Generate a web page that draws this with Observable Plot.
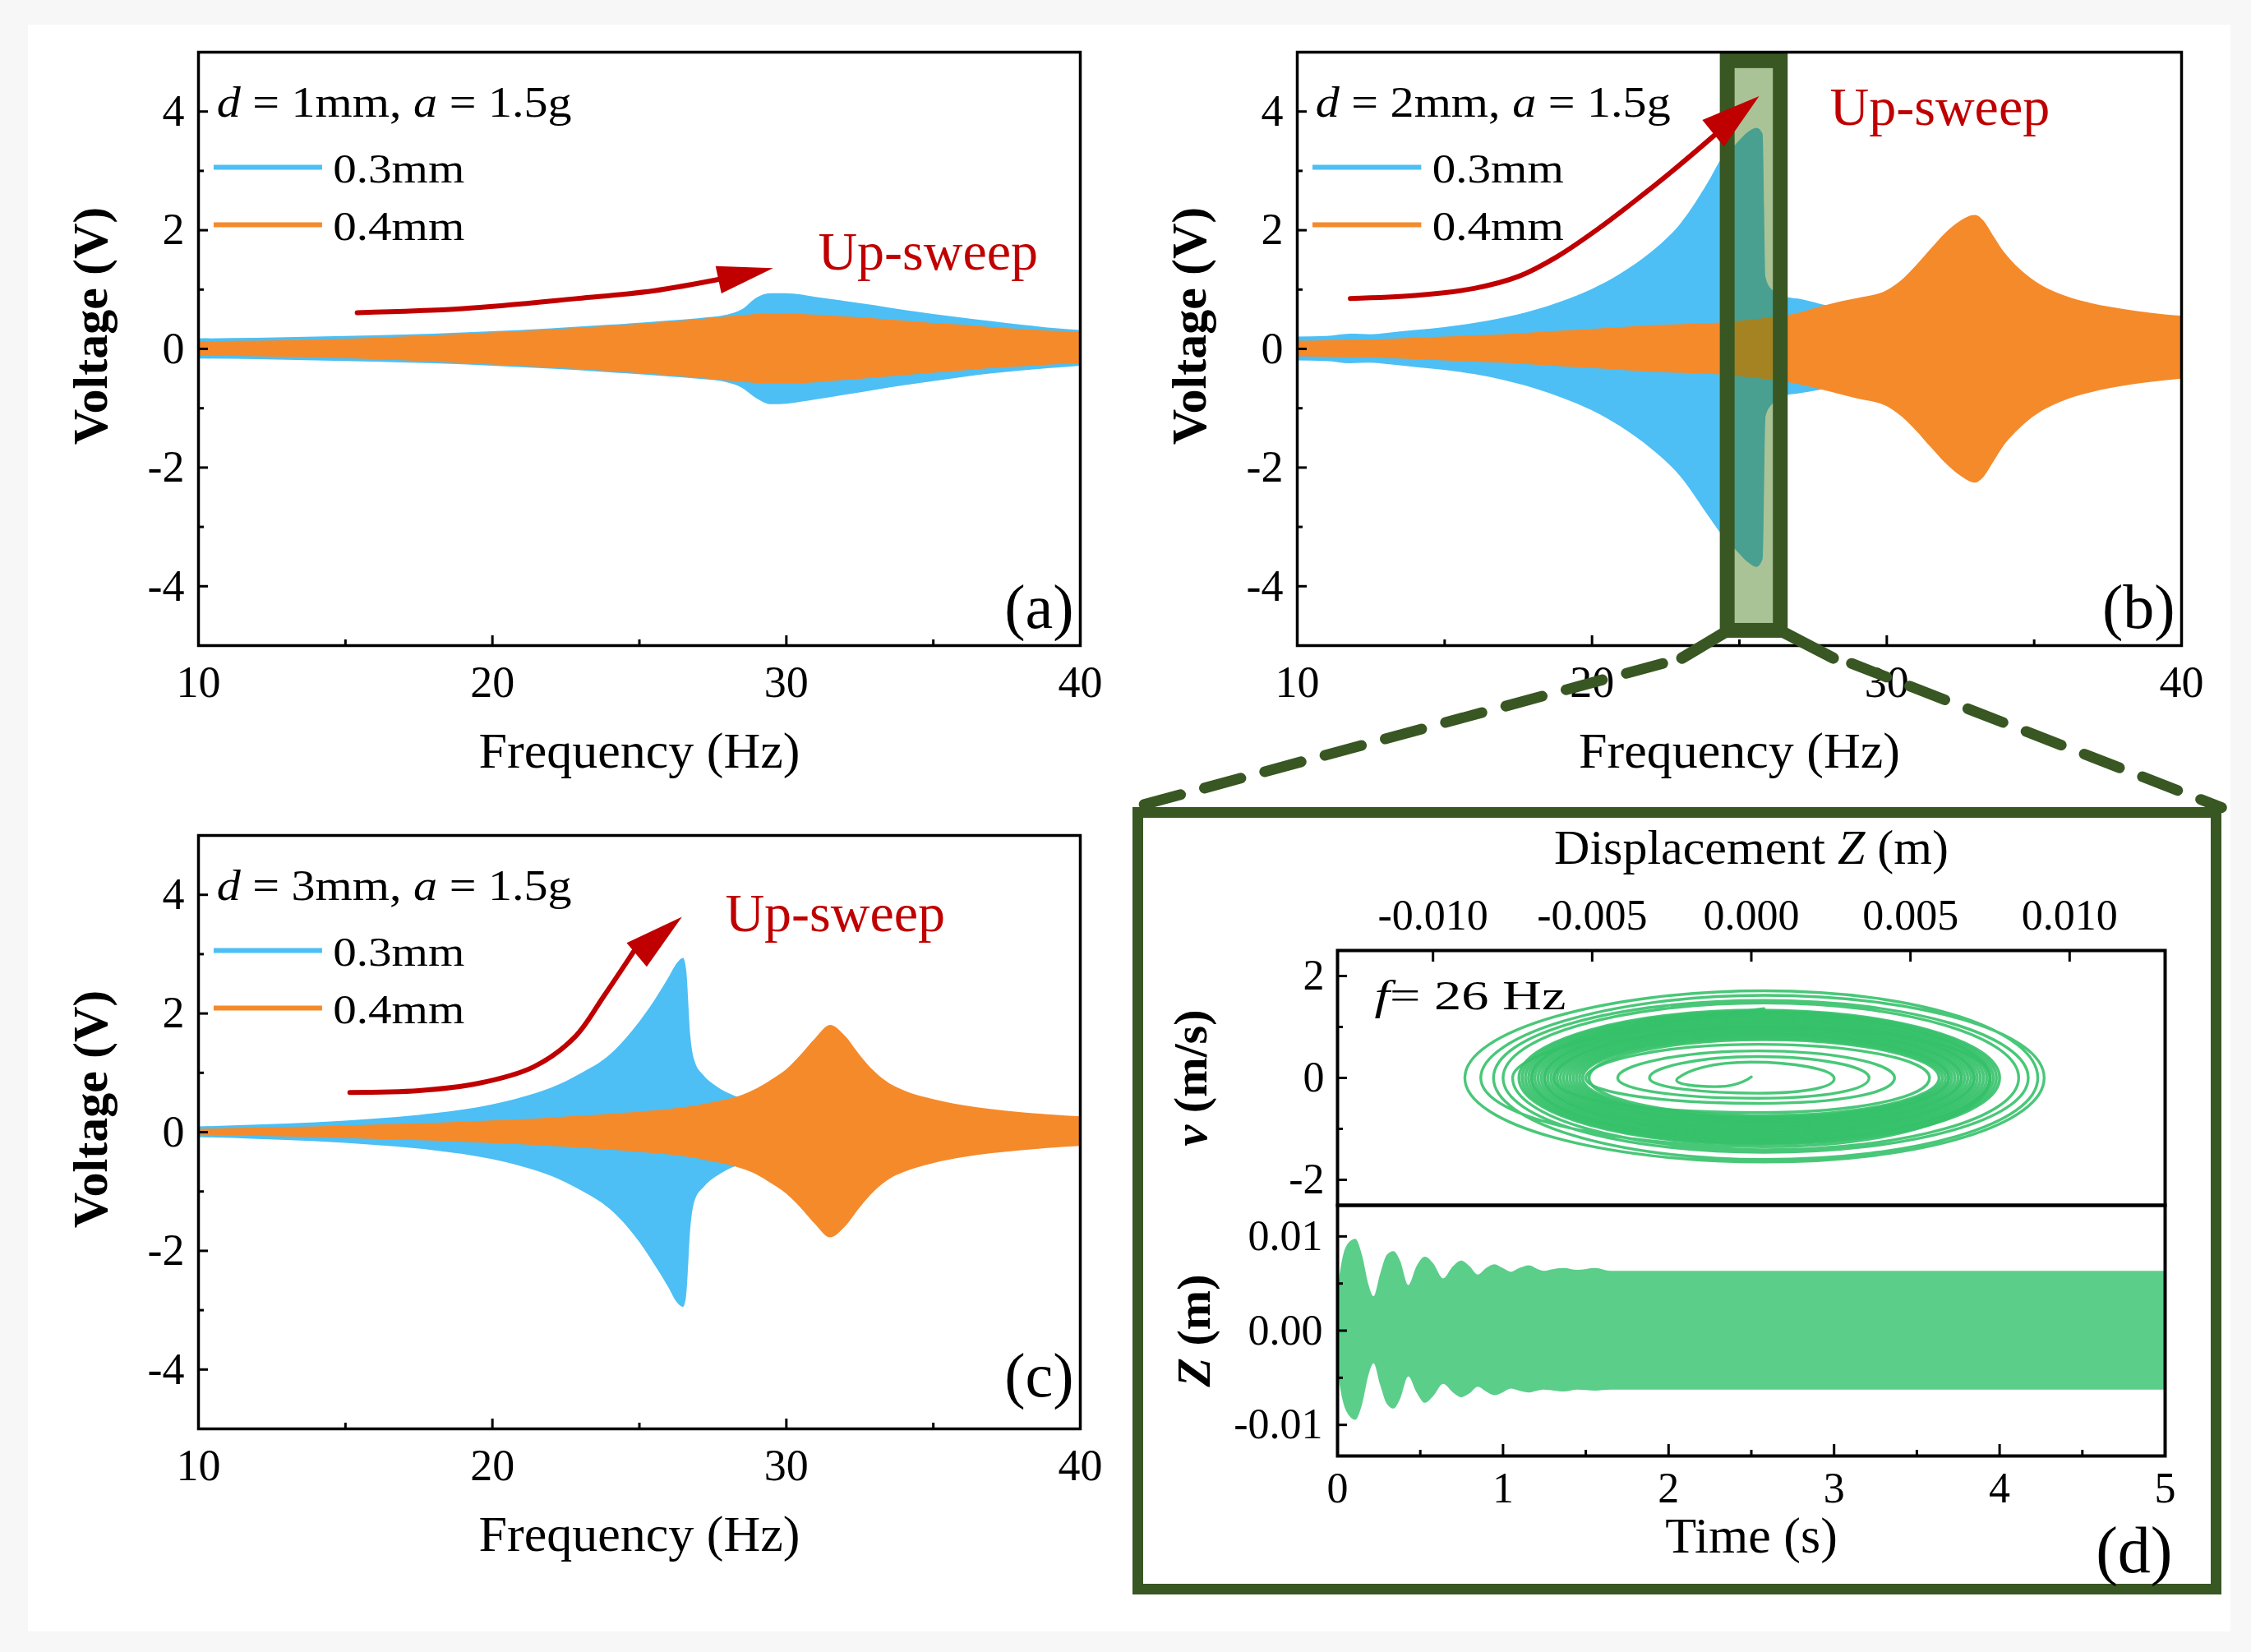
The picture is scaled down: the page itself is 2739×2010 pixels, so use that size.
<!DOCTYPE html>
<html>
<head>
<meta charset="utf-8">
<script src="https://cdn.jsdelivr.net/npm/d3@7"></script>
<script src="https://cdn.jsdelivr.net/npm/@observablehq/plot@0.6"></script>
<style>
html,body{margin:0;padding:0;background:#f7f7f7;}
#fig{position:relative;width:2739px;height:2010px;overflow:hidden;background:#f7f7f7;}
#paper{position:absolute;left:34px;top:30px;width:2680px;height:1955px;background:#ffffff;}
#dbox{position:absolute;left:1378px;top:982px;width:1325px;height:958px;border:13px solid #385723;box-sizing:border-box;background:#fff;}
.pan{position:absolute;}
</style>
</head>
<body>
<div id="fig"><div id="paper"></div><div id="dbox"></div></div>
<script>
// ---------------- data ----------------
// Panel (a): d = 1 mm
const freqA = [10,12,14,16,18,20,22,24,26,27,28,28.5,29,29.5,30,31,32,33,34,35,36,37,38,39,40];
const blueTopA = [0.17,0.18,0.20,0.22,0.25,0.29,0.34,0.40,0.47,0.51,0.57,0.66,0.86,0.93,0.93,0.87,0.80,0.73,0.65,0.58,0.52,0.46,0.40,0.35,0.31];
const blueBotA = [-0.17,-0.18,-0.20,-0.22,-0.25,-0.29,-0.34,-0.40,-0.47,-0.51,-0.57,-0.66,-0.84,-0.94,-0.93,-0.86,-0.78,-0.70,-0.62,-0.55,-0.48,-0.42,-0.37,-0.33,-0.29];
const orangeTopA = [0.12,0.13,0.15,0.18,0.22,0.27,0.32,0.38,0.45,0.49,0.54,0.56,0.58,0.59,0.59,0.57,0.54,0.51,0.47,0.43,0.40,0.36,0.33,0.30,0.28];
const orangeBotA = [-0.12,-0.13,-0.15,-0.18,-0.22,-0.27,-0.32,-0.38,-0.45,-0.49,-0.54,-0.56,-0.58,-0.59,-0.59,-0.57,-0.53,-0.49,-0.45,-0.41,-0.37,-0.33,-0.30,-0.27,-0.25];

// Panel (b): d = 2 mm
const freqB = [10,11,11.8,12.5,13,14,15,16,17,18,19,20,21,22,23,24,24.4,24.9,25.3,25.6,25.8,25.9,26.1,26.6,27,27.7,28.5,29,30,30.5,31,31.5,32,32.5,33,33.3,33.6,34,34.5,35,36,37,38,39,40];
const blueTopB = [0.20,0.21,0.25,0.24,0.26,0.31,0.36,0.43,0.52,0.64,0.80,1.00,1.27,1.62,2.10,2.85,3.20,3.45,3.65,3.72,3.62,1.20,1.00,0.87,0.84,0.76,0.66,0.62,0.56,0.53,0.50,0.48,0.46,0.44,0.42,0.41,0.40,0.39,0.37,0.36,0.34,0.32,0.30,0.28,0.26];
const blueBotB = [-0.20,-0.21,-0.25,-0.24,-0.26,-0.31,-0.36,-0.43,-0.53,-0.66,-0.83,-1.04,-1.32,-1.68,-2.15,-2.85,-3.13,-3.40,-3.60,-3.68,-3.55,-1.15,-0.95,-0.79,-0.76,-0.70,-0.62,-0.58,-0.54,-0.52,-0.50,-0.48,-0.46,-0.44,-0.42,-0.41,-0.40,-0.39,-0.37,-0.36,-0.34,-0.32,-0.30,-0.28,-0.26];
const orangeTopB = [0.13,0.14,0.15,0.15,0.16,0.18,0.20,0.22,0.24,0.27,0.30,0.33,0.36,0.39,0.41,0.43,0.44,0.46,0.48,0.50,0.51,0.52,0.53,0.56,0.60,0.70,0.80,0.85,0.98,1.15,1.40,1.68,1.95,2.15,2.25,2.15,1.92,1.62,1.35,1.15,0.90,0.76,0.67,0.60,0.55];
const orangeBotB = [-0.13,-0.14,-0.15,-0.15,-0.16,-0.18,-0.20,-0.22,-0.24,-0.27,-0.30,-0.33,-0.36,-0.39,-0.41,-0.43,-0.44,-0.46,-0.48,-0.50,-0.51,-0.52,-0.53,-0.56,-0.60,-0.68,-0.78,-0.84,-0.97,-1.14,-1.38,-1.66,-1.93,-2.14,-2.26,-2.16,-1.93,-1.62,-1.35,-1.14,-0.88,-0.73,-0.63,-0.56,-0.51];

// Panel (c): d = 3 mm
const freqC = [10,12,14,16,18,20,21,22,23,24,25,25.5,26,26.3,26.5,26.6,26.75,26.9,27.2,27.6,28,28.5,29,29.5,30,30.5,31,31.5,32,32.5,33,33.5,34,35,36,37,38,39,40];
const blueTopC = [0.09,0.12,0.16,0.22,0.31,0.46,0.58,0.74,0.98,1.30,1.85,2.20,2.60,2.85,2.93,2.75,1.60,1.18,0.95,0.78,0.66,0.56,0.48,0.43,0.40,0.37,0.34,0.32,0.30,0.28,0.26,0.25,0.24,0.22,0.20,0.19,0.18,0.17,0.16];
const blueBotC = [-0.09,-0.12,-0.16,-0.22,-0.31,-0.46,-0.58,-0.74,-0.98,-1.30,-1.85,-2.22,-2.62,-2.88,-2.95,-2.78,-1.60,-1.15,-0.93,-0.76,-0.64,-0.54,-0.47,-0.42,-0.39,-0.36,-0.33,-0.31,-0.29,-0.27,-0.25,-0.24,-0.23,-0.21,-0.20,-0.19,-0.18,-0.17,-0.16];
const orangeTopC = [0.05,0.07,0.09,0.12,0.15,0.19,0.21,0.24,0.27,0.30,0.34,0.36,0.38,0.40,0.41,0.42,0.43,0.44,0.47,0.51,0.55,0.62,0.73,0.88,1.05,1.30,1.58,1.80,1.62,1.30,1.02,0.82,0.70,0.55,0.45,0.38,0.33,0.29,0.26];
const orangeBotC = [-0.05,-0.07,-0.09,-0.12,-0.15,-0.19,-0.21,-0.24,-0.27,-0.30,-0.34,-0.36,-0.38,-0.40,-0.41,-0.42,-0.43,-0.44,-0.47,-0.51,-0.55,-0.62,-0.72,-0.87,-1.04,-1.28,-1.56,-1.78,-1.60,-1.28,-1.00,-0.80,-0.68,-0.53,-0.43,-0.36,-0.31,-0.27,-0.24];

// Up-sweep arrows (frequency, voltage) read along each red arrow
const arrowFA = [15.4,19.0,22.9,25.5,27.8];
const arrowVA = [0.61,0.68,0.85,0.98,1.18];
const arrowFB = [11.8,14.0,16.0,17.5,18.8,20.2,21.6,22.9,24.2];
const arrowVB = [0.85,0.90,1.02,1.22,1.55,2.02,2.55,3.07,3.62];
const arrowFC = [15.15,17.5,19.5,21.4,22.8,23.8,24.8];
const arrowVC = [0.67,0.70,0.82,1.10,1.60,2.30,3.04];

// Highlighted window in (b) (Hz) around f = 26 Hz
const zoomWindow = [24.6, 26.4];

// Panel (d): time response Z(t) envelope
const timeT = [0,0.03,0.07,0.11,0.15,0.19,0.22,0.26,0.30,0.34,0.38,0.43,0.48,0.53,0.58,0.64,0.70,0.75,0.80,0.85,0.90,0.95,1.00,1.05,1.10,1.16,1.21,1.25,1.31,1.37,1.45,1.56,1.65,2.5,3.5,5.0];
const timeTop = [0.0040,0.0075,0.0093,0.0097,0.0080,0.0048,0.0036,0.0060,0.0080,0.0084,0.0074,0.0048,0.0068,0.0078,0.0071,0.0055,0.0068,0.0074,0.0068,0.0059,0.0066,0.0070,0.0066,0.0062,0.0066,0.0069,0.0065,0.0063,0.0065,0.0066,0.0064,0.0066,0.0063,0.0063,0.0063,0.0063];
const timeBot = [-0.0040,-0.0072,-0.0090,-0.0095,-0.0079,-0.0047,-0.0035,-0.0058,-0.0078,-0.0083,-0.0073,-0.0049,-0.0066,-0.0077,-0.0070,-0.0057,-0.0066,-0.0071,-0.0067,-0.0060,-0.0065,-0.0069,-0.0066,-0.0062,-0.0064,-0.0066,-0.0064,-0.0063,-0.0064,-0.0065,-0.0063,-0.0064,-0.0063,-0.0063,-0.0063,-0.0063];

// Panel (d): phase portrait — transient spiral (extreme points of successive half loops)
const spiralZ = [0.0000,-0.0010,-0.0023,0.0000,0.0026,0.0002,-0.0032,0.0002,0.0037,0.0002,-0.0042,0.0002,0.0045,0.0002,-0.0052,0.0002,0.0056,0.0002,-0.0062,0.0003,0.0075,0.0004,-0.0085,0.0004,0.0092,0.0004,-0.0090,0.0004,0.0090,0.0004,-0.0081,0.0004,0.0087,0.0004,-0.0078,0.0004,0.0084,0.0004,-0.0075,0.0004];
const spiralV = [0.02,-0.17,0.00,0.31,0.00,-0.30,0.00,0.42,0.00,-0.40,0.00,0.53,0.00,-0.50,0.00,0.66,0.00,-0.68,0.00,1.00,0.00,-1.35,0.00,1.62,0.00,-1.65,0.00,1.71,0.00,-1.60,0.00,1.52,0.00,-1.46,0.00,1.47,0.00,-1.41,0.00,1.36];
// Phase portrait — steady-state loops (dense band)
const bandLeft  = [-0.0073,-0.0072,-0.0071,-0.0070,-0.0069,-0.0069,-0.0068,-0.0067,-0.0066,-0.0065,-0.0065,-0.0064,-0.0063,-0.0062,-0.0061,-0.0060,-0.0059,-0.0058,-0.0057,-0.0056,-0.0055,-0.0054,-0.0053,-0.0051];
const bandRight = [0.0078,0.0077,0.0076,0.0075,0.0075,0.0074,0.0073,0.0072,0.0071,0.0070,0.0070,0.0069,0.0068,0.0067,0.0066,0.0066,0.0065,0.0064,0.0063,0.0062,0.0062,0.0061,0.0060,0.0059];
const bandTop   = [1.33,1.31,1.28,1.26,1.24,1.21,1.19,1.16,1.14,1.11,1.09,1.06,1.04,1.01,0.99,0.96,0.94,0.91,0.89,0.86,0.84,0.81,0.78,0.75];
const bandBottom= [-1.30,-1.28,-1.25,-1.23,-1.21,-1.18,-1.16,-1.13,-1.11,-1.08,-1.06,-1.03,-1.01,-0.98,-0.96,-0.93,-0.91,-0.88,-0.86,-0.84,-0.81,-0.79,-0.77,-0.74];

// tick labels
const freqTicks = [10,20,30,40];
const voltTicks = [-4,-2,0,2,4];
const dispTicks = [-0.010,-0.005,0,0.005,0.010];
const velTicks = [-2,0,2];
const timeTicks = [0,1,2,3,4,5];
const zTicks = [-0.01,0,0.01];

// ---------------- styling ----------------
const SERIF = "'Liberation Serif','Times New Roman',Times,serif";
const BLUE = "#4dbff4", ORANGE = "#f58a2b", RED = "#c00000", DKGREEN = "#385723";
const LINEGREEN = "#35c169", FILLGREEN = "#52cb84";
const fmt = dec => d => (d < 0 ? "-" : "") + Math.abs(d).toFixed(dec);
const baseStyle = fs => ({fontFamily: SERIF, fontSize: fs + "px", background: "transparent", overflow: "visible", maxWidth: "none", color: "#000"});

// rich text: italic parts and fitted width, found by the text content
function restyle(svg, content, {parts, width}) {
  d3.select(svg).selectAll("text").filter(function() { return this.textContent === content; }).each(function() {
    const t = d3.select(this);
    if (parts) {
      t.text(null);
      for (const [s, it] of parts) t.append("tspan").attr("font-style", it ? "italic" : null).text(s);
    }
    if (width) t.attr("textLength", width).attr("lengthAdjust", "spacingAndGlyphs");
  });
}

function place(svg, left, top, w, h) {
  const div = document.createElement("div");
  div.className = "pan";
  div.style.left = left + "px"; div.style.top = top + "px";
  div.style.width = w + "px"; div.style.height = h + "px";
  div.appendChild(svg);
  document.getElementById("fig").appendChild(div);
  return svg;
}

function freqPanel(cfg) {
  const {width, height, mt, mb, ml, mr} = cfg;
  const H = height - mt - mb, Wf = width - ml - mr;
  const blue = cfg.freq.map((f, i) => ({f, lo: cfg.bBot[i], hi: cfg.bTop[i]}));
  const orange = cfg.freq.map((f, i) => ({f, lo: cfg.oBot[i], hi: cfg.oTop[i]}));
  const arrow = cfg.arrowF.map((f, i) => ({f, v: cfg.arrowV[i]}));
  const marks = [
    Plot.areaY(blue, {x: "f", y1: "lo", y2: "hi", fill: BLUE, curve: "monotone-x"}),
    Plot.areaY(orange, {x: "f", y1: "lo", y2: "hi", fill: ORANGE, curve: "monotone-x"}),
    ...(cfg.overlay || []),
    Plot.line(arrow, {x: "f", y: "v", stroke: RED, strokeWidth: 6, curve: "catmull-rom"}),
    Plot.vector([cfg.tip], {x: d => d[0], y: d => d[1], rotate: cfg.tip[2], length: cfg.tip[3], r: cfg.tip[4], shape: "spike", anchor: "end", fill: RED, stroke: "none"}),
    Plot.text(["Up-sweep"], {x: cfg.up[0], y: cfg.up[1], textAnchor: "start", lineAnchor: "bottom", fill: RED, fontSize: 66}),
    Plot.text([cfg.title], {x: 10.62, y: 3.91, textAnchor: "start", lineAnchor: "bottom", fontSize: 52}),
    Plot.ruleY([3.06], {x1: 10.53, x2: 14.22, stroke: BLUE, strokeWidth: 6}),
    Plot.ruleY([2.09], {x1: 10.53, x2: 14.22, stroke: ORANGE, strokeWidth: 6}),
    Plot.text(["0.3mm"], {x: 14.58, y: 2.80, textAnchor: "start", lineAnchor: "bottom", fontSize: 50}),
    Plot.text(["0.4mm"], {x: 14.58, y: 1.83, textAnchor: "start", lineAnchor: "bottom", fontSize: 50}),
    Plot.text([cfg.panel], {frameAnchor: "bottom-right", dx: -8, dy: cfg.panelDy, textAnchor: "end", lineAnchor: "bottom", fontSize: 76}),
    Plot.frame({stroke: "#000", strokeWidth: 3.5}),
    Plot.tickX([20, 30], {x: d => d, insetTop: H - 12, stroke: "#000", strokeWidth: 3}),
    Plot.tickX([15, 25, 35], {x: d => d, insetTop: H - 7, stroke: "#000", strokeWidth: 3}),
    Plot.tickY([-4, -2, 0, 2, 4], {y: d => d, insetRight: Wf - 12, stroke: "#000", strokeWidth: 3}),
    Plot.tickY([-3, -1, 1, 3], {y: d => d, insetRight: Wf - 7, stroke: "#000", strokeWidth: 3}),
    Plot.axisX({ticks: freqTicks, tickSize: 0, tickPadding: 24, tickFormat: fmt(0), label: null, fontSize: 54}),
    Plot.axisY({ticks: voltTicks, tickSize: 0, tickPadding: 17, tickFormat: fmt(0), label: null, fontSize: 54}),
    Plot.text(["Frequency (Hz)"], {frameAnchor: "bottom", dy: 148, lineAnchor: "bottom", fontSize: 62}),
    Plot.text(["Voltage (V)"], {frameAnchor: "left", dx: -131, dy: -28, rotate: -90, textAnchor: "middle", lineAnchor: "middle", fontSize: 60, fontWeight: "bold"}),
    ...(cfg.after || [])
  ];
  const svg = Plot.plot({
    width, height, marginTop: mt, marginBottom: mb, marginLeft: ml, marginRight: mr,
    x: {domain: [10, 40]}, y: {domain: [-5, 5]},
    style: baseStyle(54),
    marks
  });
  place(svg, cfg.left, cfg.top, width, height);
  restyle(svg, cfg.title, {parts: cfg.titleParts, width: 432});
  restyle(svg, "0.3mm", {width: 160});
  restyle(svg, "0.4mm", {width: 160});
  return svg;
}

// ---- Panel (a)
freqPanel({
  left: 0, top: 0, width: 1370, height: 990, mt: 63, mb: 205, ml: 241, mr: 56,
  freq: freqA, bTop: blueTopA, bBot: blueBotA, oTop: orangeTopA, oBot: orangeBotA,
  arrowF: arrowFA, arrowV: arrowVA, tip: [29.55, 1.36, 78, 68, 17], up: [31.08, 1.33],
  title: "d = 1mm, a = 1.5g", titleParts: [["d", 1], [" = 1mm, ", 0], ["a", 1], [" = 1.5g", 0]],
  panel: "(a)", panelDy: -22
});

// ---- Panel (c)
freqPanel({
  left: 0, top: 960, width: 1370, height: 1030, mt: 56, mb: 252, ml: 241, mr: 56,
  freq: freqC, bTop: blueTopC, bBot: blueBotC, oTop: orangeTopC, oBot: orangeBotC,
  arrowF: arrowFC, arrowV: arrowVC, tip: [26.45, 3.63, 50, 72, 19], up: [27.92, 3.38],
  title: "d = 3mm, a = 1.5g", titleParts: [["d", 1], [" = 3mm, ", 0], ["a", 1], [" = 1.5g", 0]],
  panel: "(c)", panelDy: -40
});

// ---- Panel (d): phase portrait
{
  const width = 1320, height = 484, mt = 174, mb = 0, ml = 247, mr = 66;
  const H = height - mt - mb, Wf = width - ml - mr;
  const spiral = spiralZ.map((z, i) => ({z, v: spiralV[i]}));
  const rings = [];
  bandLeft.forEach((l, i) => {
    const r = bandRight[i], m = (l + r) / 2;
    rings.push({ring: i, z: r, v: 0}, {ring: i, z: m, v: bandBottom[i]}, {ring: i, z: l, v: 0}, {ring: i, z: m, v: bandTop[i]});
  });
  const svg = Plot.plot({
    width, height, marginTop: mt, marginBottom: mb, marginLeft: ml, marginRight: mr,
    x: {domain: [-0.013, 0.013]}, y: {domain: [-2.5, 2.5]},
    style: baseStyle(52),
    marks: [
      Plot.line(rings, {x: "z", y: "v", z: "ring", curve: "cardinal-closed", tension: -0.657, stroke: LINEGREEN, strokeWidth: 3.6, strokeOpacity: 0.9}),
      Plot.line(spiral, {x: "z", y: "v", curve: "cardinal", tension: -0.657, stroke: LINEGREEN, strokeWidth: 3.4, strokeOpacity: 0.9}),
      Plot.frame({stroke: "#000", strokeWidth: 4}),
      Plot.tickX(dispTicks, {x: d => d, insetBottom: H - 14, stroke: "#000", strokeWidth: 3}),
      Plot.tickY(velTicks, {y: d => d, insetRight: Wf - 12, stroke: "#000", strokeWidth: 3}),
      Plot.tickY([-1, 1], {y: d => d, insetRight: Wf - 7, stroke: "#000", strokeWidth: 3}),
      Plot.axisX({anchor: "top", ticks: dispTicks, tickSize: 0, tickPadding: 26, tickFormat: fmt(3), label: null, fontSize: 52}),
      Plot.axisY({ticks: velTicks, tickSize: 0, tickPadding: 16, tickFormat: fmt(0), label: null, fontSize: 52}),
      Plot.text(["Displacement Z (m)"], {frameAnchor: "top", dy: -106, lineAnchor: "bottom", fontSize: 60}),
      Plot.text(["v (m/s)"], {frameAnchor: "left", dx: -178, rotate: -90, textAnchor: "middle", lineAnchor: "middle", fontSize: 58, fontWeight: "bold"}),
      Plot.text(["f = 26 Hz"], {x: -0.01184, y: 1.34, textAnchor: "start", lineAnchor: "bottom", fontSize: 50})
    ]
  });
  place(svg, 1380, 982, width, height);
  restyle(svg, "Displacement Z (m)", {parts: [["Displacement ", 0], ["Z", 1], [" (m)", 0]]});
  restyle(svg, "v (m/s)", {parts: [["v", 1], [" (m/s)", 0]]});
  restyle(svg, "f = 26 Hz", {parts: [["f", 1], ["= 26 Hz", 0]], width: 233});
}

// ---- Panel (d): time response
{
  const width = 1320, height = 470, mt = 0, mb = 165, ml = 247, mr = 66;
  const H = height - mt - mb, Wf = width - ml - mr;
  const env = timeT.map((t, i) => ({t, lo: timeBot[i], hi: timeTop[i]}));
  const svg = Plot.plot({
    width, height, marginTop: mt, marginBottom: mb, marginLeft: ml, marginRight: mr,
    x: {domain: [0, 5]}, y: {domain: [-0.0133, 0.0133]},
    style: baseStyle(52),
    marks: [
      Plot.areaY(env, {x: "t", y1: "lo", y2: "hi", fill: FILLGREEN, fillOpacity: 0.95, curve: "monotone-x"}),
      Plot.frame({stroke: "#000", strokeWidth: 4}),
      Plot.tickX([1, 2, 3, 4], {x: d => d, insetTop: H - 14, stroke: "#000", strokeWidth: 3}),
      Plot.tickX([0.5, 1.5, 2.5, 3.5, 4.5], {x: d => d, insetTop: H - 7, stroke: "#000", strokeWidth: 3}),
      Plot.tickY(zTicks, {y: d => d, insetRight: Wf - 12, stroke: "#000", strokeWidth: 3}),
      Plot.tickY([-0.005, 0.005], {y: d => d, insetRight: Wf - 7, stroke: "#000", strokeWidth: 3}),
      Plot.axisX({ticks: timeTicks, tickSize: 0, tickPadding: 20, tickFormat: fmt(0), label: null, fontSize: 52}),
      Plot.axisY({ticks: zTicks, tickSize: 0, tickPadding: 18, tickFormat: fmt(2), label: null, fontSize: 52}),
      Plot.text(["Time (s)"], {frameAnchor: "bottom", dy: 117, lineAnchor: "bottom", fontSize: 62}),
      Plot.text(["Z (m)"], {frameAnchor: "left", dx: -174, rotate: -90, textAnchor: "middle", lineAnchor: "middle", fontSize: 58, fontWeight: "bold"}),
      Plot.text(["(d)"], {frameAnchor: "bottom-right", dx: 9, dy: 141, textAnchor: "end", lineAnchor: "bottom", fontSize: 80})
    ]
  });
  place(svg, 1380, 1466, width, height);
  restyle(svg, "Z (m)", {parts: [["Z", 1], [" (m)", 0]]});
}

// ---- Panel (b) (last, so its connectors sit on top)
freqPanel({
  left: 1370, top: 0, width: 1369, height: 1000, mt: 63, mb: 215, ml: 208, mr: 85,
  freq: freqB, bTop: blueTopB, bBot: blueBotB, oTop: orangeTopB, oBot: orangeBotB,
  arrowF: arrowFB, arrowV: arrowVB, tip: [25.67, 4.26, 51, 72, 21], up: [28.07, 3.78],
  title: "d = 2mm, a = 1.5g", titleParts: [["d", 1], [" = 2mm, ", 0], ["a", 1], [" = 1.5g", 0]],
  panel: "(b)", panelDy: -22,
  overlay: [
    Plot.rect([zoomWindow], {x1: d => d[0], x2: d => d[1], y1: -4.75, y2: 4.85, fill: "rgb(70,125,27)", fillOpacity: 0.46, stroke: DKGREEN, strokeWidth: 18})
  ],
  after: [
    Plot.line([[zoomWindow[0], -4.75], [23.05, -5.21]], {x: d => d[0], y: d => d[1], stroke: DKGREEN, strokeWidth: 14}),
    Plot.line([[zoomWindow[1], -4.75], [28.18, -5.21]], {x: d => d[0], y: d => d[1], stroke: DKGREEN, strokeWidth: 14}),
    Plot.line([[22.4, -5.30], [4.42, -7.73]], {x: d => d[0], y: d => d[1], stroke: DKGREEN, strokeWidth: 13, strokeDasharray: "46,30"}),
    Plot.line([[28.8, -5.30], [41.36, -7.73]], {x: d => d[0], y: d => d[1], stroke: DKGREEN, strokeWidth: 13, strokeDasharray: "46,30"})
  ]
});
</script>
</body>
</html>
